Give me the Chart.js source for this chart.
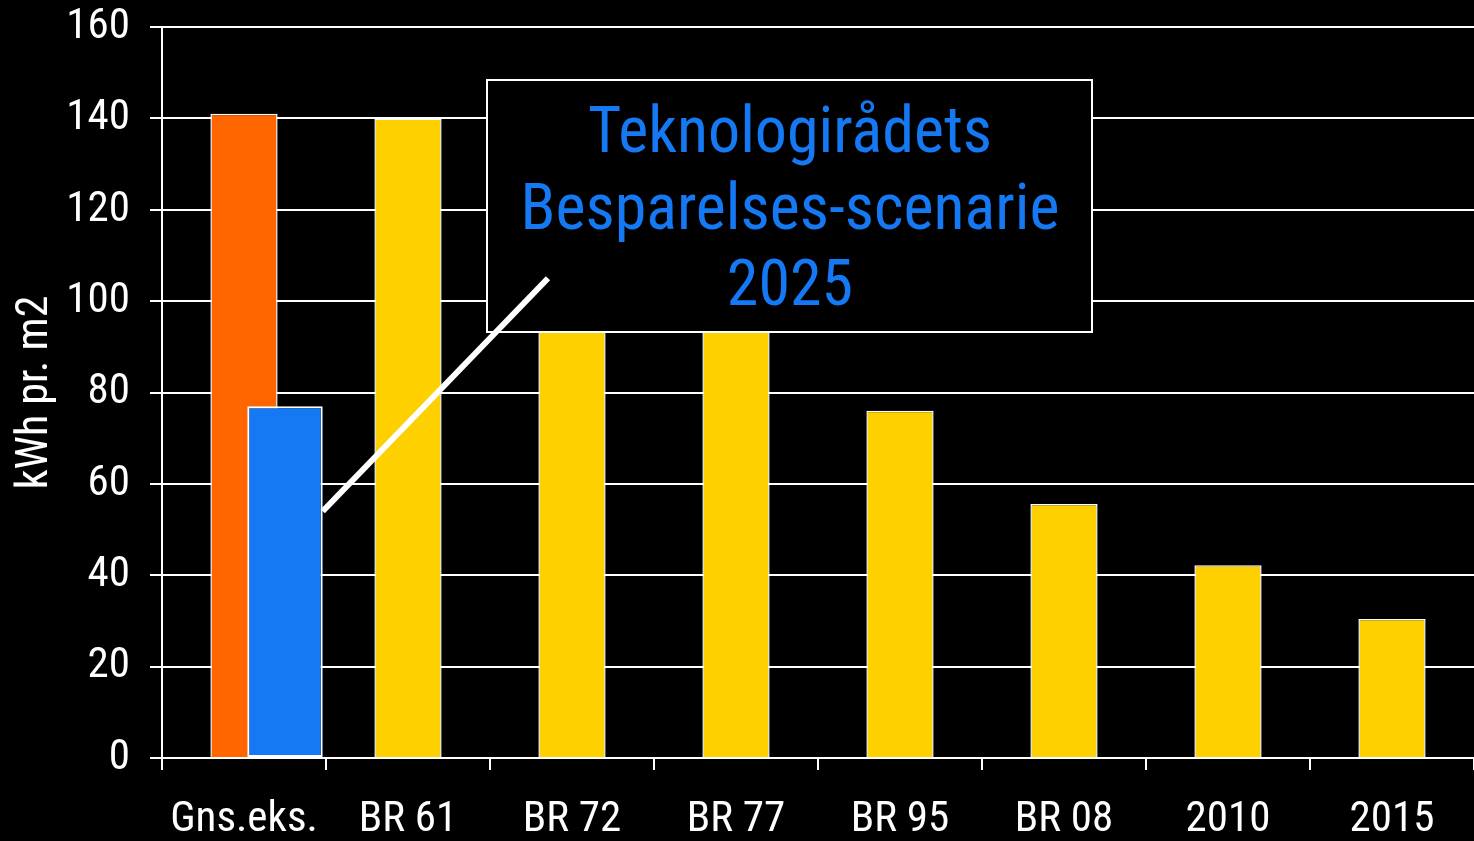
<!DOCTYPE html>
<html>
<head>
<meta charset="utf-8">
<script src="https://cdn.jsdelivr.net/npm/chart.js@4.4.1/dist/chart.umd.min.js"></script>
<style>
    html, body { margin: 0; padding: 0; background: #000; overflow: hidden; }
    #wrap { width: 1474px; height: 841px; }
</style>
</head>
<body>
<div id="wrap"><canvas id="chart" width="1474" height="841"></canvas></div>
<script>
const categories = ['Gns.eks.', 'BR 61', 'BR 72', 'BR 77', 'BR 95', 'BR 08', '2010', '2015'];
const consumption = [141, 140, 115, 100, 76, 55.6, 42.2, 30.4];
const scenarioValue = 77;
const yTicks = [0, 20, 40, 60, 80, 100, 120, 140, 160];
const boxLines = ['Teknologirådets', 'Besparelses-scenarie', '2025'];

const FONT = "'Liberation Sans Narrow', 'Arial Narrow', 'Roboto Condensed', sans-serif";
const ORANGE = '#ff6600';
const YELLOW = '#ffd000';
const BLUE = '#1479f2';

// half-width slots so the scenario bar sits right of the first category centre
const halfSlots = categories.flatMap(c => [c + ' a', c + ' b']);
const scenarioData = halfSlots.map((_, i) => i === 1 ? scenarioValue : null);

// callout box + pointer line
const calloutPlugin = {
    id: 'callout',
    afterDatasetsDraw(chart) {
        const ctx = chart.ctx;
        const y = chart.scales.y;
        const blueBar = chart.getDatasetMeta(0).data[1];
        const x0 = blueBar.x + blueBar.width / 2;
        ctx.save();
        // box
        ctx.fillStyle = '#000';
        ctx.fillRect(487, 80, 605, 252);
        ctx.strokeStyle = '#fff';
        ctx.lineWidth = 2;
        ctx.strokeRect(487, 80, 605, 252);
        // pointer line
        ctx.lineWidth = 6;
        ctx.beginPath();
        ctx.moveTo(x0, y.getPixelForValue(54));
        ctx.lineTo(548, y.getPixelForValue(105));
        ctx.stroke();
        // text
        ctx.fillStyle = BLUE;
        ctx.font = '64px ' + FONT;
        ctx.textAlign = 'center';
        ctx.textBaseline = 'alphabetic';
        boxLines.forEach((line, i) => ctx.fillText(line, 790, 152 + i * 76.5));
        ctx.restore();
    }
};

new Chart(document.getElementById('chart'), {
    type: 'bar',
    data: {
        labels: categories,
        datasets: [
            {
                label: 'Besparelses-scenarie 2025',
                data: scenarioData,
                xAxisID: 'x2',
                backgroundColor: BLUE,
                borderColor: '#fff',
                borderWidth: 2,
                borderSkipped: false,
                barPercentage: 0.92,
                categoryPercentage: 1,
                grouped: false,
                order: 0
            },
            {
                label: 'kWh pr. m2',
                data: consumption,
                backgroundColor: consumption.map((_, i) => i === 0 ? ORANGE : YELLOW),
                borderColor: '#fff',
                borderWidth: 1.5,
                barPercentage: 0.41,
                categoryPercentage: 1,
                grouped: false,
                order: 1
            }
        ]
    },
    options: {
        responsive: false,
        animation: false,
        layout: { padding: 0 },
        plugins: {
            legend: { display: false },
            tooltip: { enabled: false }
        },
        scales: {
            x: {
                type: 'category',
                offset: true,
                afterFit: s => { s.height = 83; },
                grid: {
                    offset: true,
                    drawOnChartArea: false,
                    color: '#fff',
                    lineWidth: 2,
                    tickLength: 12
                },
                border: { color: '#fff', width: 2 },
                ticks: {
                    color: '#fff',
                    font: { family: FONT, size: 43 },
                    padding: 24,
                    maxRotation: 0
                }
            },
            x2: {
                type: 'category',
                labels: halfSlots,
                offset: true,
                display: false
            },
            y: {
                min: 0,
                max: 160,
                afterFit: s => { s.width = 162; s.paddingTop = 27; },
                afterBuildTicks: s => { s.ticks = yTicks.map(v => ({ value: v })); },
                grid: {
                    color: '#fff',
                    lineWidth: 2,
                    tickLength: 12
                },
                border: { color: '#fff', width: 2 },
                ticks: {
                    color: '#fff',
                    font: { family: FONT, size: 43 },
                    padding: 20
                },
                title: {
                    display: true,
                    text: 'kWh pr. m2',
                    color: '#fff',
                    font: { family: FONT, size: 44 },
                    padding: { top: 10, bottom: 0 }
                }
            }
        }
    },
    plugins: [calloutPlugin]
});
</script>
</body>
</html>
